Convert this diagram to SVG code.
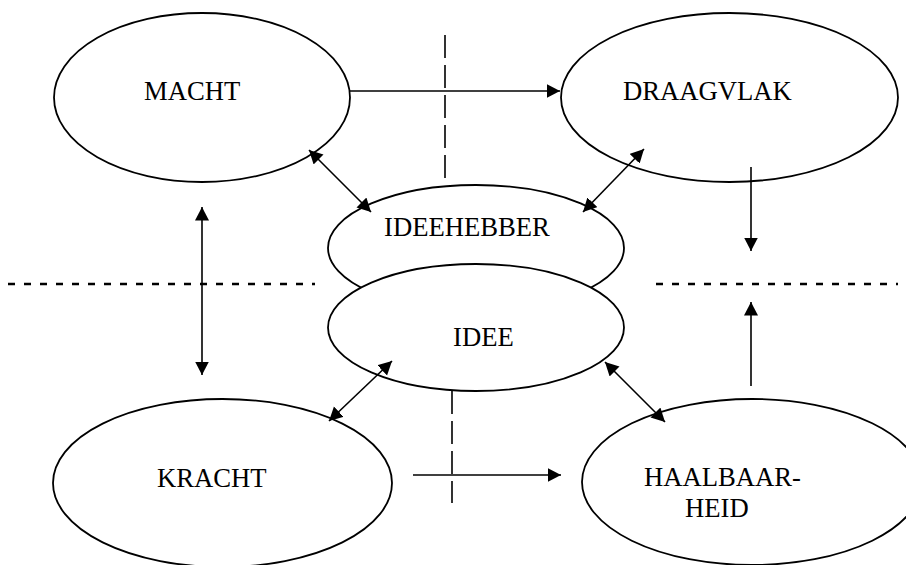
<svg xmlns="http://www.w3.org/2000/svg" width="906" height="565" viewBox="0 0 906 565">
<style>
.node ellipse{fill:#fff;stroke:#000;stroke-width:1.8}
.node text{font-family:"Liberation Serif","Times New Roman",serif;font-size:26.67px;fill:#000}
.conn line{stroke:#000;stroke-width:1.6;fill:none}
.conn .arr{marker-end:url(#ah)}
.conn .dbl{marker-start:url(#ah);marker-end:url(#ah)}
.conn .vdash{stroke-dasharray:23 7}
.conn .hdash{stroke-width:2.4;stroke-dasharray:7 9}
</style>
<defs>
<marker id="ah" markerUnits="userSpaceOnUse" markerWidth="15" markerHeight="15" refX="13.5" refY="7" orient="auto-start-reverse">
<path d="M0,0 L13.5,7 L0,14 z" fill="#000"/>
</marker>
</defs>
<rect width="906" height="565" fill="#fff"/>
<g id="macht" class="node">
<ellipse cx="202" cy="97.5" rx="148" ry="84.5"/>
<text x="144" y="100">MACHT</text>
</g>
<g id="draagvlak" class="node">
<ellipse cx="729.5" cy="97.5" rx="168.5" ry="84.5"/>
<text x="623" y="100">DRAAGVLAK</text>
</g>
<g id="ideehebber" class="node">
<ellipse cx="476" cy="248" rx="148" ry="63"/>
<text x="384" y="236">IDEEHEBBER</text>
</g>
<g id="idee" class="node">
<ellipse cx="476" cy="327.5" rx="148" ry="63.5"/>
<text x="453" y="346">IDEE</text>
</g>
<g id="kracht" class="node">
<ellipse cx="222.5" cy="483" rx="169.5" ry="84"/>
<text x="157" y="487">KRACHT</text>
</g>
<g id="haalbaarheid" class="node">
<ellipse cx="752" cy="482" rx="170" ry="83"/>
<text x="644" y="486">HAALBAAR-</text>
<text x="685" y="517">HEID</text>
</g>
<g id="connectors" class="conn">
<line class="hdash" x1="8" y1="284" x2="315" y2="284"/>
<line class="hdash" x1="656" y1="284" x2="898" y2="284"/>
<line class="vdash" x1="445" y1="35" x2="445" y2="178"/>
<line class="vdash" x1="452" y1="391" x2="452" y2="503"/>
<line class="arr" x1="350" y1="91" x2="560" y2="91"/>
<line class="arr" x1="413" y1="475" x2="561" y2="475"/>
<line class="arr" x1="751" y1="167" x2="751" y2="251"/>
<line class="arr" x1="751" y1="386" x2="751" y2="302"/>
<line class="dbl" x1="309" y1="150" x2="371" y2="212"/>
<line class="dbl" x1="644" y1="149" x2="583" y2="212"/>
<line class="dbl" x1="392" y1="361" x2="329" y2="421"/>
<line class="dbl" x1="605" y1="362" x2="665" y2="422"/>
<line class="dbl" x1="202" y1="207" x2="202" y2="375"/>
</g>
</svg>
